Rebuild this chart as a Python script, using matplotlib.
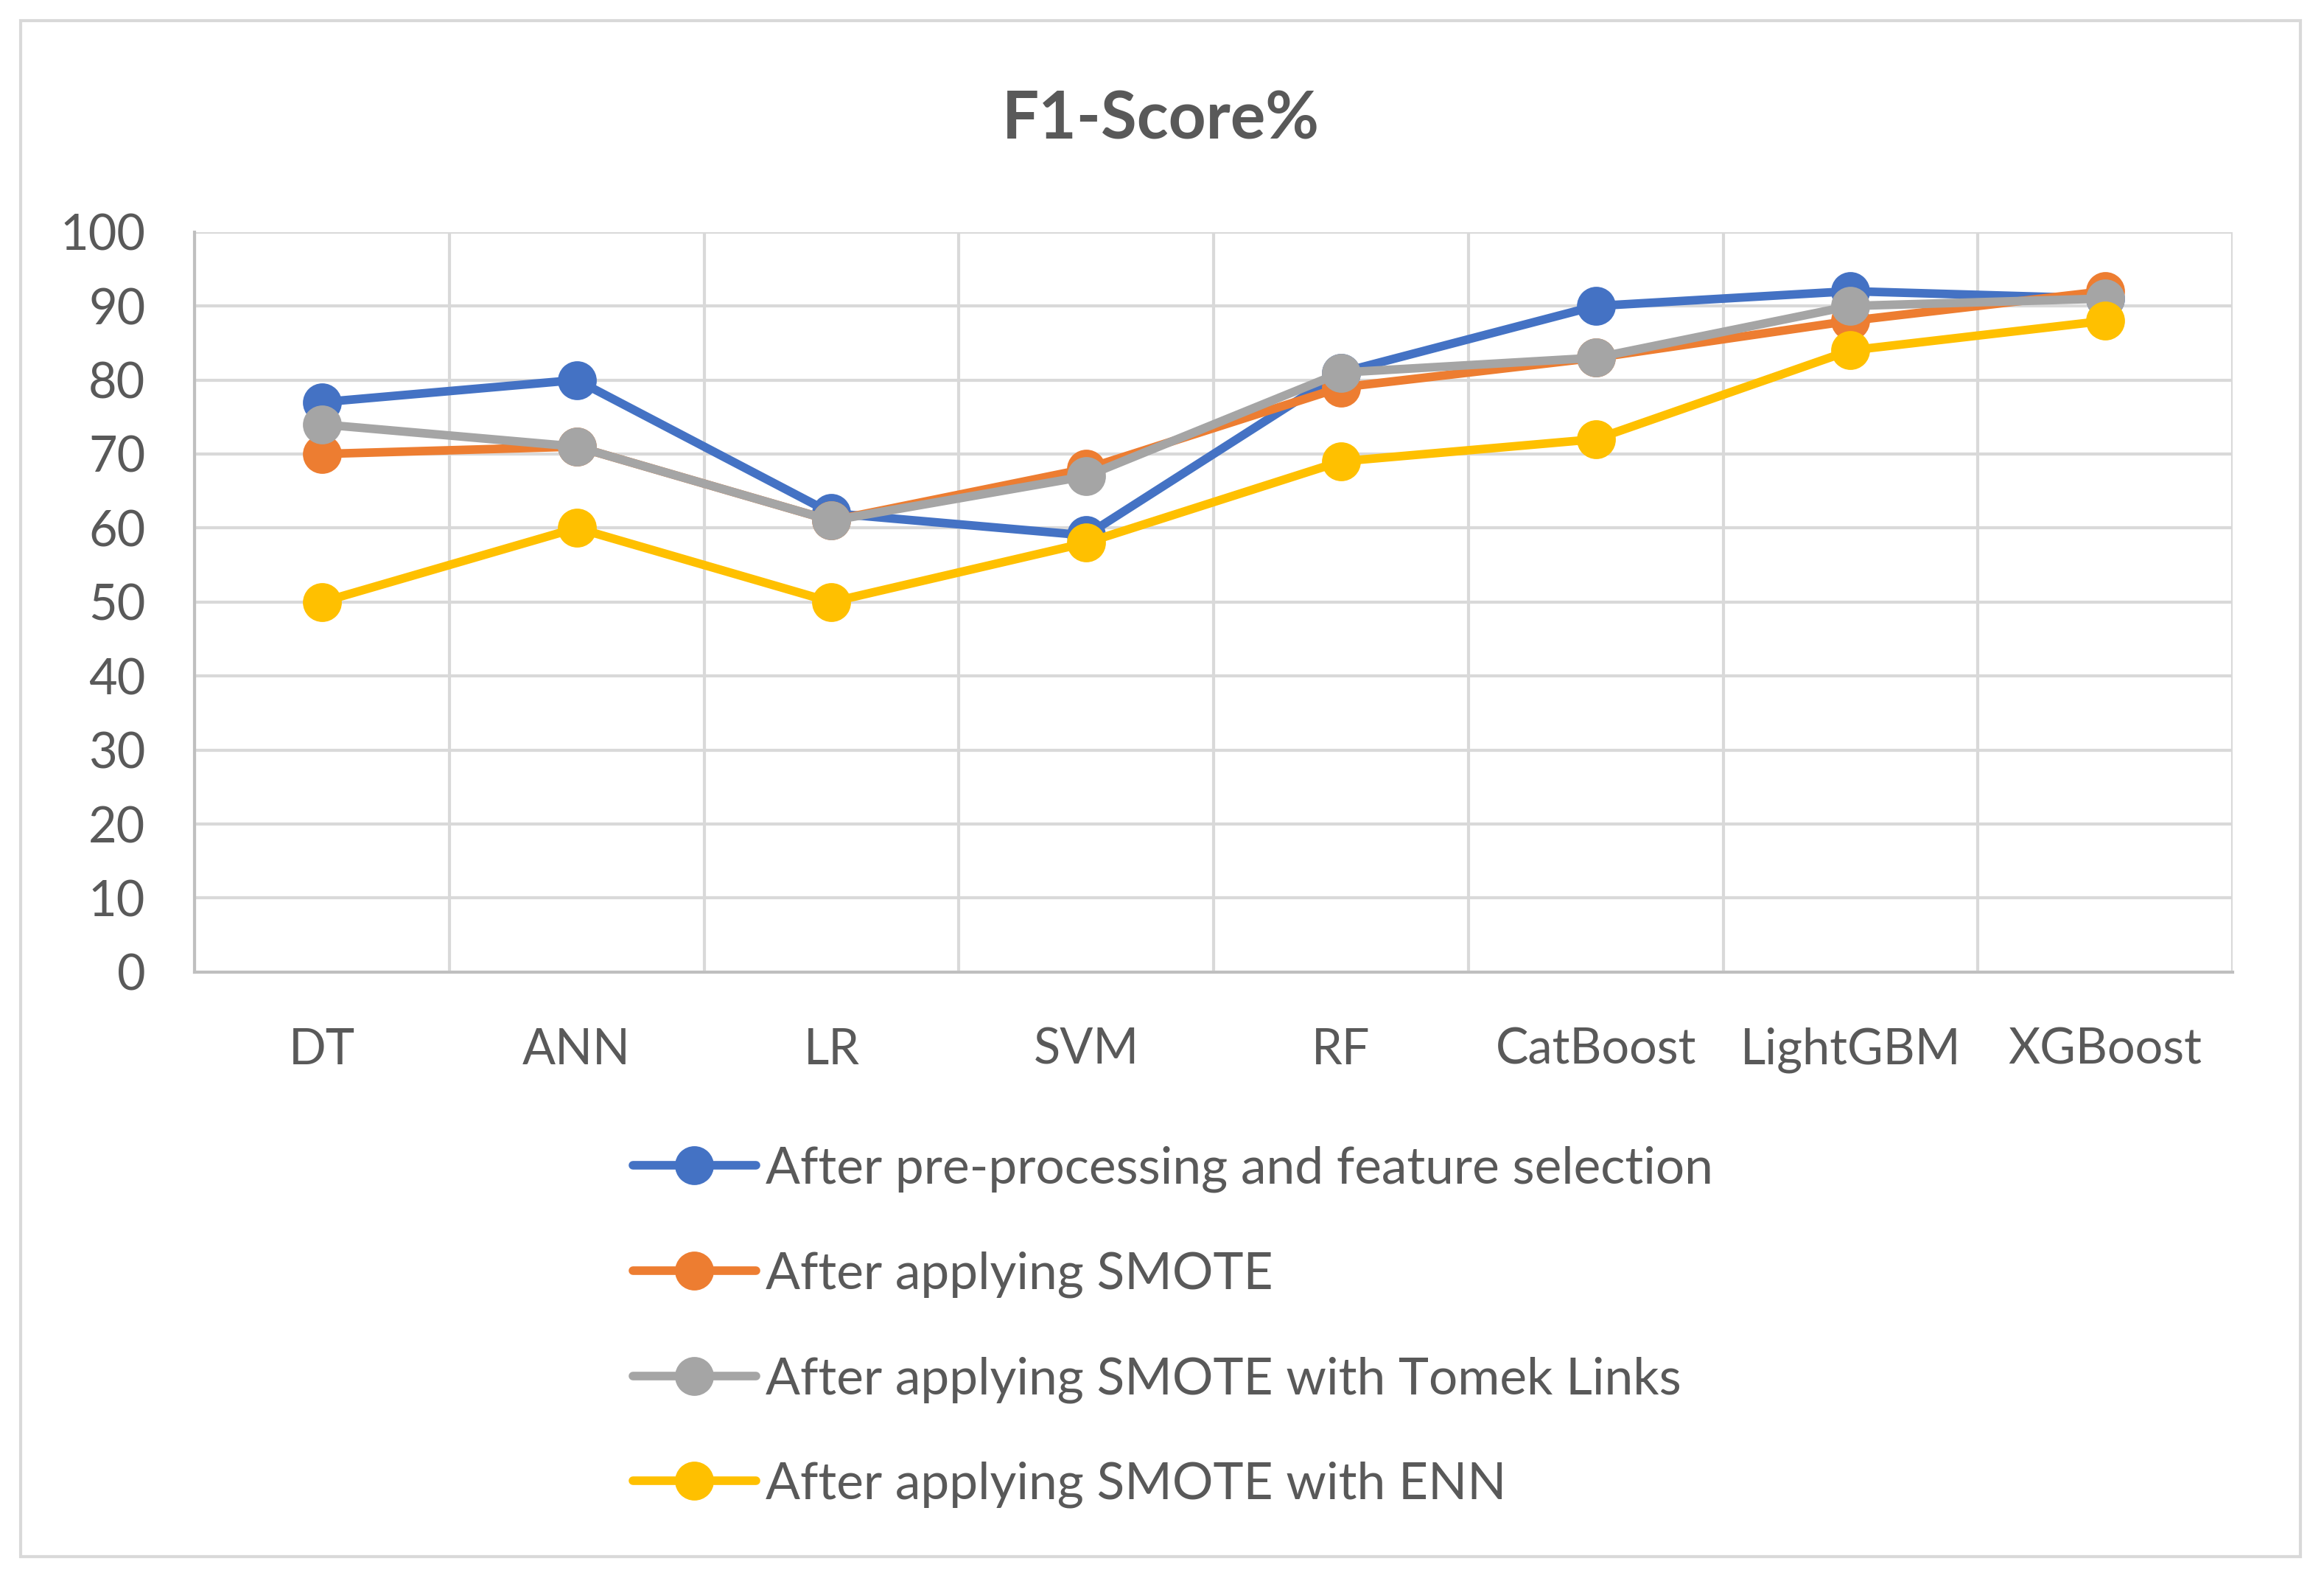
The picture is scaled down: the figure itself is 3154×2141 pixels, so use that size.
import matplotlib
matplotlib.use("Agg")
import matplotlib.pyplot as plt
from matplotlib.patches import Rectangle

categories = ["DT", "ANN", "LR", "SVM", "RF", "CatBoost", "LightGBM", "XGBoost"]
pre_fs = [77, 80, 62, 59, 81, 90, 92, 91]
smote = [70, 71, 61, 68, 79, 83, 88, 92]
smote_tomek = [74, 71, 61, 67, 81, 83, 90, 91]
smote_enn = [50, 60, 50, 58, 69, 72, 84, 88]
series_labels = [
    "After pre-processing and feature selection",
    "After applying SMOTE",
    "After applying SMOTE with Tomek Links",
    "After applying SMOTE with ENN",
]
yticks = [0, 10, 20, 30, 40, 50, 60, 70, 80, 90, 100]
colors = ["#4472C4", "#ED7D31", "#A5A5A5", "#FFC000"]
txt = "#595959"

plt.rcParams['font.family'] = ['Lato', 'DejaVu Sans']

fig = plt.figure(figsize=(15.77, 10.705), dpi=200)
ax = fig.add_axes([0.0837, 0.384, 0.877, 0.469])

x = list(range(len(categories)))
for vals, lab, c in zip([pre_fs, smote, smote_tomek, smote_enn], series_labels, colors):
    ax.plot(x, vals, color=c, lw=4.2, marker='o', markersize=18, label=lab,
            solid_capstyle='round', solid_joinstyle='round', zorder=3)

ax.set_xlim(-0.5, len(categories) - 0.5)
ax.set_ylim(0, 100)
ax.set_yticks(yticks)
ax.set_xticks(x)
ax.set_xticklabels(categories)
ax.set_xticks([i + 0.5 for i in range(-1, len(categories))], minor=True)
ax.grid(False)
ax.yaxis.grid(True, color="#D9D9D9", lw=1.5)
ax.xaxis.grid(True, which='minor', color="#D9D9D9", lw=1.5)
ax.set_axisbelow(True)
for s in ['top', 'right']:
    ax.spines[s].set_visible(False)
ax.spines['bottom'].set_color("#BFBFBF")
ax.spines['bottom'].set_linewidth(1.5)
ax.spines['left'].set_color("#BFBFBF")
ax.spines['left'].set_linewidth(1.5)
ax.tick_params(axis='both', which='both', length=0, labelsize=24, colors=txt)
ax.tick_params(axis='x', pad=27)
ax.tick_params(axis='y', pad=24)

fig.text(0.4995, 0.924, "F1-Score%", ha='center', va='center', fontsize=32,
         fontweight='bold', color=txt)

leg = fig.legend(loc='upper left', bbox_to_anchor=(0.2525, 0.303), frameon=False,
                 fontsize=25, handlelength=2.4, handletextpad=0.2, labelspacing=1.14,
                 labelcolor=txt)

fig.patches.append(Rectangle((0.0089, 0.0136), 0.981, 0.9733, transform=fig.transFigure,
                             fill=False, edgecolor="#D9D9D9", lw=1.5))

fig.savefig("out.png", dpi=200, facecolor="white")
